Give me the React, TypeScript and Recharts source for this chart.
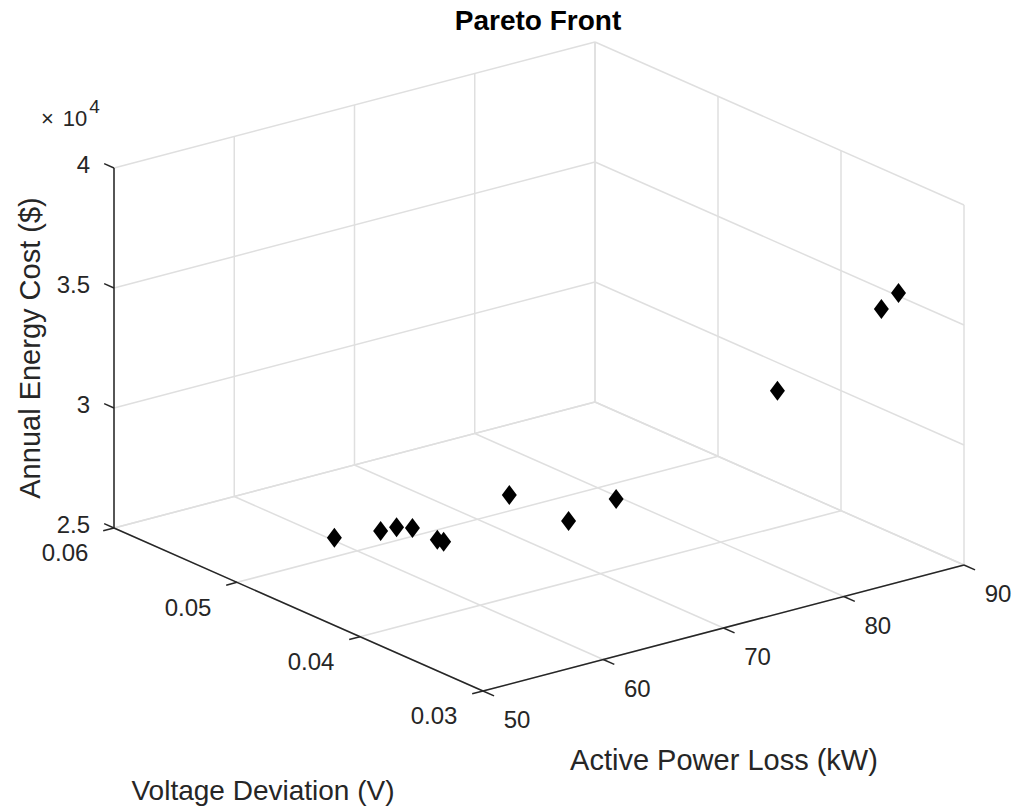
import { ScatterChart, Scatter, XAxis, YAxis, ReferenceLine } from 'recharts';

// Pareto front points: active power loss (kW), voltage deviation (V), annual energy cost ($)
const powerLoss = [58.1, 59.9, 60.2, 60.5, 59.5, 59.0, 70.6, 65.3, 71.3, 79.6, 86.2, 86.6];
const voltageDeviation = [0.05, 0.048, 0.047, 0.046, 0.043, 0.042, 0.048, 0.038, 0.04, 0.035, 0.033, 0.032];
const energyCost = [25790, 26290, 26640, 26790, 27110, 27320, 26390, 28260, 27940, 32490, 35490, 36330];

const lossTicks = [50, 60, 70, 80, 90];
const voltageTicks = [0.03, 0.04, 0.05, 0.06];
const costTicks = [25000, 30000, 35000, 40000];
const costTickLabels = ['2.5', '3', '3.5', '4'];

const W = 1024;
const H = 809;
const FONT = '"Liberation Sans", Arial, Helvetica, sans-serif';
const INK = '#262626';
const GRID = '#dfdfdf';

// axis limits
const X0 = 50, X1 = 90;
const Y0 = 0.03, Y1 = 0.06;
const Z0 = 25000, Z1 = 40000;

// view: where the front-bottom corner sits and how far each full axis range spans on screen
const ORIGIN = { u: 483, v: 691 };
const SPAN_X = { u: 481, v: -126 };
const SPAN_Y = { u: -369, v: -163 };
const SPAN_Z = { u: 0, v: -360 };

function project(x: number, y: number, z: number) {
  const fx = (x - X0) / (X1 - X0);
  const fy = (y - Y0) / (Y1 - Y0);
  const fz = (z - Z0) / (Z1 - Z0);
  return {
    u: ORIGIN.u + fx * SPAN_X.u + fy * SPAN_Y.u + fz * SPAN_Z.u,
    v: ORIGIN.v + fx * SPAN_X.v + fy * SPAN_Y.v + fz * SPAN_Z.v,
  };
}

type Seg = { a: [number, number, number]; b: [number, number, number] };

const gridSegs: Seg[] = [];
// floor
lossTicks.forEach((x) => gridSegs.push({ a: [x, Y0, Z0], b: [x, Y1, Z0] }));
voltageTicks.forEach((y) => gridSegs.push({ a: [X0, y, Z0], b: [X1, y, Z0] }));
// back wall (y = max)
lossTicks.forEach((x) => gridSegs.push({ a: [x, Y1, Z0], b: [x, Y1, Z1] }));
costTicks.forEach((z) => gridSegs.push({ a: [X0, Y1, z], b: [X1, Y1, z] }));
// side wall (x = max)
voltageTicks.forEach((y) => gridSegs.push({ a: [X1, y, Z0], b: [X1, y, Z1] }));
costTicks.forEach((z) => gridSegs.push({ a: [X1, Y0, z], b: [X1, Y1, z] }));

const axisSegs: Seg[] = [
  { a: [X0, Y0, Z0], b: [X1, Y0, Z0] },
  { a: [X0, Y0, Z0], b: [X0, Y1, Z0] },
  { a: [X0, Y1, Z0], b: [X0, Y1, Z1] },
];
lossTicks.forEach((x) => axisSegs.push({ a: [x, Y0, Z0], b: [x, Y0 - 0.0009, Z0] }));
voltageTicks.forEach((y) => axisSegs.push({ a: [X0, y, Z0], b: [X0 - 0.9, y, Z0] }));
costTicks.forEach((z) => axisSegs.push({ a: [X0, Y1, z], b: [X0, Y1 + 0.0008, z] }));

const points = powerLoss.map((x, i) => project(x, voltageDeviation[i], energyCost[i]));

type Label = { u: number; v: number; text: string; anchor: string; size: number; bold?: boolean; rotate?: boolean };

const labels: Label[] = [
  ...lossTicks.map((x) => {
    const p = project(x, Y0, Z0);
    return { u: p.u + 34, v: p.v + 29, text: String(x), anchor: 'middle', size: 24 };
  }),
  ...voltageTicks.map((y) => {
    const p = project(X0, y, Z0);
    return { u: p.u - 49, v: p.v + 25, text: y.toFixed(2), anchor: 'middle', size: 24 };
  }),
  ...costTicks.map((z, i) => {
    const p = project(X0, Y1, z);
    return { u: p.u - 24, v: p.v - 3, text: costTickLabels[i], anchor: 'end', size: 24 };
  }),
  { u: 538, v: 20, text: 'Pareto Front', anchor: 'middle', size: 28, bold: true },
  { u: 724, v: 760, text: 'Active Power Loss (kW)', anchor: 'middle', size: 29 },
  { u: 263, v: 790, text: 'Voltage Deviation (V)', anchor: 'middle', size: 28 },
  { u: 30, v: 348, text: 'Annual Energy Cost ($)', anchor: 'middle', size: 29, rotate: true },
];

// exponent marker above the cost axis
const exponentMark = [{ u: 41, v: 118 }];

const Diamond = (p: any) => (
  <polygon
    points={`${p.cx},${p.cy - 10} ${p.cx + 7.5},${p.cy} ${p.cx},${p.cy + 10} ${p.cx - 7.5},${p.cy}`}
    fill="#000000"
  />
);

const TextMark = (p: any) => {
  const d: Label = p.payload;
  return (
    <text
      x={p.cx}
      y={p.cy}
      dy="0.35em"
      textAnchor={d.anchor as any}
      fontFamily={FONT}
      fontSize={d.size}
      fontWeight={d.bold ? 'bold' : 'normal'}
      fill={d.bold ? '#000000' : INK}
      transform={d.rotate ? `rotate(-90 ${p.cx} ${p.cy})` : undefined}
    >
      {d.text}
    </text>
  );
};

const ExponentText = (p: any) => (
  <text x={p.cx} y={p.cy + 8} fontFamily={FONT} fill={INK} style={{ fontSize: 22 }}>
    <tspan style={{ fontSize: 22 }}>{'\u00d7'}</tspan>
    <tspan dx={9} style={{ fontSize: 22 }}>10</tspan>
    <tspan dx={2} dy={-13} style={{ fontSize: 19 }}>4</tspan>
  </text>
);

export default function App() {
  return (
    <div style={{ position: 'absolute', left: 0, top: 0, width: W, height: H, background: '#ffffff' }}>
      <ScatterChart width={W} height={H} margin={{ top: 0, right: 0, bottom: 0, left: 0 }}>
        <XAxis type="number" dataKey="u" domain={[0, W]} hide />
        <YAxis type="number" dataKey="v" domain={[0, H]} reversed hide />
        {gridSegs.map((s, i) => {
          const a = project(...s.a);
          const b = project(...s.b);
          return (
            <ReferenceLine
              key={`g${i}`}
              segment={[{ x: a.u, y: a.v }, { x: b.u, y: b.v }]}
              stroke={GRID}
              strokeWidth={1.5}
              ifOverflow="visible"
            />
          );
        })}
        {axisSegs.map((s, i) => {
          const a = project(...s.a);
          const b = project(...s.b);
          return (
            <ReferenceLine
              key={`a${i}`}
              segment={[{ x: a.u, y: a.v }, { x: b.u, y: b.v }]}
              stroke={INK}
              strokeWidth={1.5}
              ifOverflow="visible"
            />
          );
        })}
        <Scatter data={points} shape={Diamond} isAnimationActive={false} />
        <Scatter data={labels} shape={TextMark} isAnimationActive={false} />
        <Scatter data={exponentMark} shape={ExponentText} isAnimationActive={false} />
      </ScatterChart>
    </div>
  );
}
